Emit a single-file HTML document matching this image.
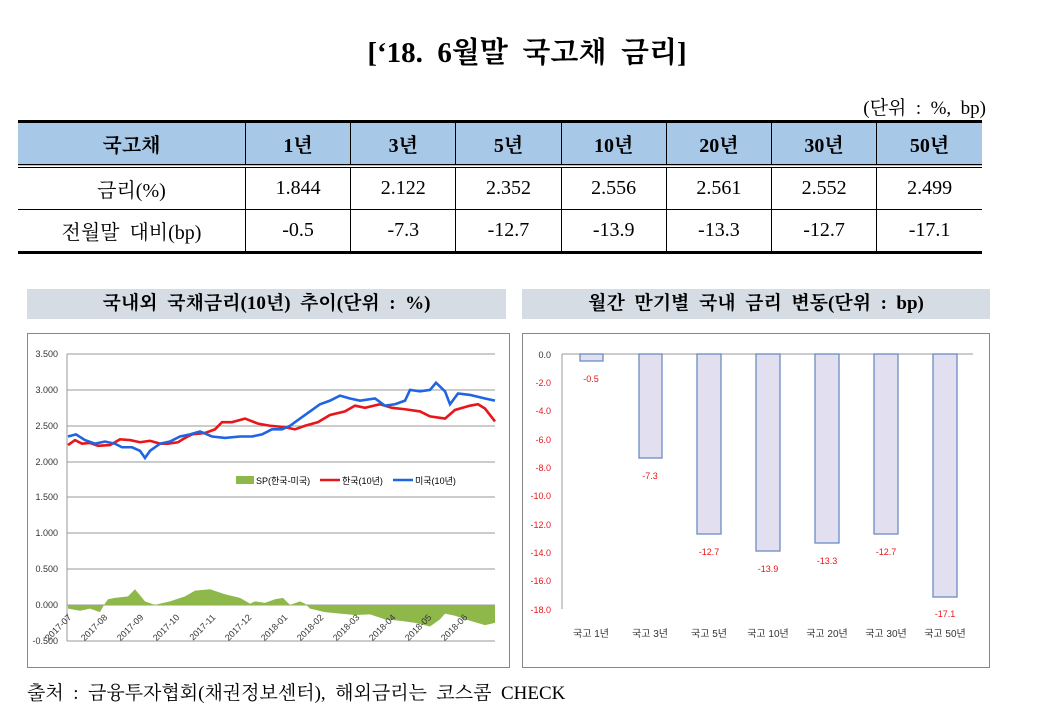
<!DOCTYPE html>
<html><head><meta charset="utf-8"><style>
body{margin:0;width:1054px;height:714px;background:#fff;position:relative;overflow:hidden;font-family:"Liberation Serif","Noto Serif CJK SC","Noto Sans CJK KR",serif;color:#000}
.a{position:absolute}
table{position:absolute;left:18px;top:120px;border-collapse:collapse;width:964px;font-size:20px}
td{text-align:center;border-left:1px solid #000;height:41px;padding:0}
td:first-child{border-left:none}
tr.h td{background:#a8c8e8;font-weight:bold;border-top:3px solid #000;border-bottom:4px double #000}
tr.l td{border-bottom:3px solid #000}
tr.m td{border-bottom:1px solid #000}
.sec{position:absolute;background:#d6dce4;height:30px;top:289px;font-size:19px;line-height:30px;text-align:center;font-family:"Liberation Serif","Noto Serif CJK SC",serif;font-weight:bold}
svg text{font-family:"Liberation Sans","Noto Sans CJK KR",sans-serif}
</style></head><body>
<div class="a" style="left:0;width:1054px;top:30px;text-align:center;font-size:29px;font-weight:bold">[‘18.&nbsp; 6월말&nbsp; 국고채&nbsp; 금리]</div>
<div class="a" style="right:68px;top:93px;font-size:19px">(단위&nbsp; :&nbsp; %,&nbsp; bp)</div>
<table>
<colgroup><col style="width:227px"><col span="7" style="width:105px"></colgroup>
<tr class="h"><td>국고채</td><td>1년</td><td>3년</td><td>5년</td><td>10년</td><td>20년</td><td>30년</td><td>50년</td></tr>
<tr class="m"><td>금리(%)</td><td>1.844</td><td>2.122</td><td>2.352</td><td>2.556</td><td>2.561</td><td>2.552</td><td>2.499</td></tr>
<tr class="l"><td>전월말&nbsp; 대비(bp)</td><td>-0.5</td><td>-7.3</td><td>-12.7</td><td>-13.9</td><td>-13.3</td><td>-12.7</td><td>-17.1</td></tr>
</table>
<div class="sec" style="left:27px;width:479px">국내외&nbsp; 국채금리(10년)&nbsp; 추이(단위&nbsp; :&nbsp; %)</div>
<div class="sec" style="left:522px;width:468px">월간&nbsp; 만기별&nbsp; 국내&nbsp; 금리&nbsp; 변동(단위&nbsp; :&nbsp; bp)</div>
<svg class="a" style="left:0;top:0" width="1054" height="714">
<rect x="27.5" y="333.5" width="482" height="334" fill="#fff" stroke="#888"/>
<rect x="522.5" y="333.5" width="467" height="334" fill="#fff" stroke="#888"/>
<g stroke="#999" stroke-width="1">
<line x1="67" x2="495" y1="354" y2="354"/><line x1="67" x2="495" y1="390" y2="390"/><line x1="67" x2="495" y1="426" y2="426"/><line x1="67" x2="495" y1="462" y2="462"/><line x1="67" x2="495" y1="497" y2="497"/><line x1="67" x2="495" y1="533" y2="533"/><line x1="67" x2="495" y1="569" y2="569"/><line x1="67" x2="495" y1="605" y2="605"/><line x1="67" x2="495" y1="641" y2="641"/>
<line x1="67" x2="67" y1="354" y2="641"/>
</g>
<g font-size="9" fill="#333" text-anchor="end">
<text x="58" y="357">3.500</text><text x="58" y="393">3.000</text><text x="58" y="429">2.500</text><text x="58" y="465">2.000</text><text x="58" y="500">1.500</text><text x="58" y="536">1.000</text><text x="58" y="572">0.500</text><text x="58" y="608">0.000</text><text x="58" y="644">-0.500</text>
</g>
<g transform="translate(0,605) scale(1,-71.7)">
<polygon fill="#8fb84a" points="68,0 68,-0.05 80,-0.08 90,-0.05 100,-0.1 104,0 108,0.08 115,0.1 128,0.12 135,0.22 145,0.05 155,0 160,0.02 170,0.05 185,0.12 195,0.2 210,0.22 225,0.15 240,0.1 250,0.02 255,0.05 265,0.03 275,0.08 283,0.1 290,0 300,0.05 305,0.02 310,-0.05 325,-0.1 340,-0.12 355,-0.14 370,-0.13 385,-0.2 400,-0.22 415,-0.25 430,-0.3 440,-0.2 445,-0.12 455,-0.15 470,-0.22 485,-0.28 495,-0.25 495,0"/>
<polyline fill="none" stroke="#e8161b" stroke-width="2.6" vector-effect="non-scaling-stroke" points="68,2.23 75,2.3 82,2.25 90,2.26 98,2.22 110,2.23 120,2.31 130,2.3 140,2.27 150,2.29 160,2.25 168,2.25 178,2.27 185,2.33 192,2.38 205,2.4 215,2.45 222,2.55 232,2.55 245,2.6 258,2.53 270,2.5 285,2.48 295,2.45 305,2.5 318,2.55 330,2.65 345,2.7 355,2.78 365,2.75 380,2.8 392,2.75 405,2.73 420,2.7 430,2.63 445,2.6 455,2.72 470,2.78 478,2.8 485,2.74 495,2.56"/>
<polyline fill="none" stroke="#1f64e0" stroke-width="2.6" vector-effect="non-scaling-stroke" points="68,2.35 76,2.38 85,2.3 95,2.25 105,2.28 115,2.25 122,2.2 132,2.2 140,2.15 145,2.05 150,2.15 160,2.25 170,2.28 180,2.35 190,2.38 200,2.42 212,2.35 225,2.33 240,2.35 252,2.35 262,2.38 272,2.45 282,2.45 290,2.5 300,2.6 310,2.7 320,2.8 330,2.85 340,2.92 350,2.88 360,2.85 375,2.88 385,2.78 395,2.8 405,2.85 410,3.0 420,2.98 430,3.0 436,3.1 445,2.98 450,2.8 458,2.95 470,2.93 485,2.88 495,2.85"/>
</g>
<rect x="236" y="476" width="18" height="8" fill="#8fb84a"/><text x="256" y="484" font-size="9">SP(한국-미국)</text>
<line x1="320" x2="340" y1="480" y2="480" stroke="#e8161b" stroke-width="2.5"/><text x="342" y="484" font-size="9">한국(10년)</text>
<line x1="393" x2="413" y1="480" y2="480" stroke="#1f64e0" stroke-width="2.5"/><text x="415" y="484" font-size="9">미국(10년)</text>
<g font-size="9" fill="#333" text-anchor="end">
<text transform="translate(72,618) rotate(-45)">2017-07</text><text transform="translate(108,618) rotate(-45)">2017-08</text><text transform="translate(144,618) rotate(-45)">2017-09</text><text transform="translate(180,618) rotate(-45)">2017-10</text><text transform="translate(216,618) rotate(-45)">2017-11</text><text transform="translate(252,618) rotate(-45)">2017-12</text><text transform="translate(288,618) rotate(-45)">2018-01</text><text transform="translate(324,618) rotate(-45)">2018-02</text><text transform="translate(360,618) rotate(-45)">2018-03</text><text transform="translate(396,618) rotate(-45)">2018-04</text><text transform="translate(432,618) rotate(-45)">2018-05</text><text transform="translate(468,618) rotate(-45)">2018-06</text>
</g>
<g stroke="#999"><line x1="562" x2="973" y1="354" y2="354"/><line x1="562" x2="562" y1="354" y2="609"/></g>
<g font-size="9" fill="#e8161b" text-anchor="end">
<text x="551" y="358" fill="#333">0.0</text><text x="551" y="386">-2.0</text><text x="551" y="414">-4.0</text><text x="551" y="443">-6.0</text><text x="551" y="471">-8.0</text><text x="551" y="499">-10.0</text><text x="551" y="528">-12.0</text><text x="551" y="556">-14.0</text><text x="551" y="584">-16.0</text><text x="551" y="613">-18.0</text>
</g>
<g fill="#e2e0f0" stroke="#6b8cc0" stroke-width="1.3">
<rect x="580" y="354" width="23" height="7"/><rect x="639" y="354" width="23" height="104"/><rect x="697" y="354" width="24" height="180"/><rect x="756" y="354" width="24" height="197"/><rect x="815" y="354" width="24" height="189"/><rect x="874" y="354" width="24" height="180"/><rect x="933" y="354" width="24" height="243"/>
</g>
<g font-size="9" fill="#e8161b" text-anchor="middle">
<text x="591" y="382">-0.5</text><text x="650" y="479">-7.3</text><text x="709" y="555">-12.7</text><text x="768" y="572">-13.9</text><text x="827" y="564">-13.3</text><text x="886" y="555">-12.7</text><text x="945" y="617">-17.1</text>
</g>
<g font-size="10" fill="#333" text-anchor="middle">
<text x="591" y="637">국고 1년</text><text x="650" y="637">국고 3년</text><text x="709" y="637">국고 5년</text><text x="768" y="637">국고 10년</text><text x="827" y="637">국고 20년</text><text x="886" y="637">국고 30년</text><text x="945" y="637">국고 50년</text>
</g>
</svg>
<div class="a" style="left:27px;top:678px;font-size:19px">출처&nbsp; :&nbsp; 금융투자협회(채권정보센터),&nbsp; 해외금리는&nbsp; 코스콤&nbsp; CHECK</div>
</body></html>
